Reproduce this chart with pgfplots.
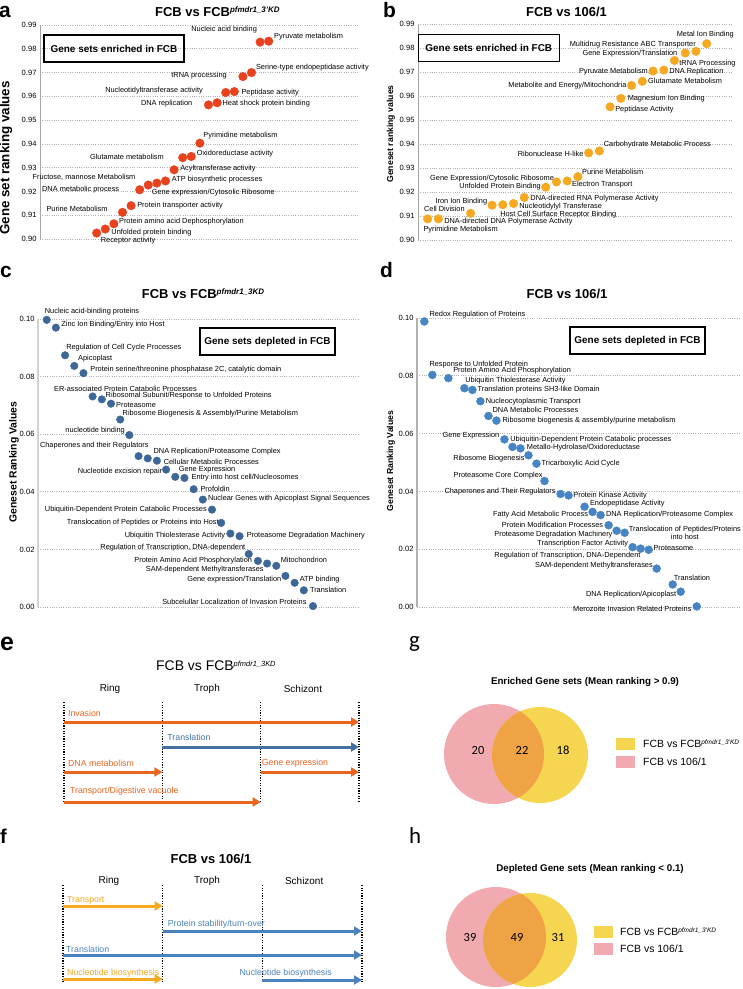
\documentclass[border=0pt]{standalone}
\usepackage{fontspec}
\setmainfont{Liberation Sans}
\newfontfamily\calfont{Carlito}
\usepackage{pgfplots}
\pgfplotsset{compat=1.18}
\usetikzlibrary{arrows.meta}

\definecolor{redA}{RGB}{232,65,30}
\definecolor{orgB}{RGB}{246,168,33}
\definecolor{bluC}{RGB}{60,103,150}
\definecolor{bluD}{RGB}{70,132,196}
\definecolor{orE}{RGB}{234,100,30}
\definecolor{bluE}{RGB}{68,114,160}
\definecolor{orF}{RGB}{246,168,30}
\definecolor{bluF}{RGB}{75,130,190}
\definecolor{pinkV}{RGB}{240,170,176}
\definecolor{yelV}{RGB}{246,213,80}
\definecolor{ovV}{RGB}{240,163,68}

\pgfplotsset{
  scat/.style={
    scale only axis, anchor=north west, clip=false,
    axis x line=none, axis y line*=left,
    ymajorgrids,
    grid style={gray!60, dash pattern=on 0.7bp off 1.6bp, line width=0.7bp},
    major tick length=0pt,
    /pgf/number format/assume math mode=true,
    yticklabel style={font=\fontsize{7.6}{8.5}\selectfont,
      /pgf/number format/.cd, fixed, fixed zerofill, precision=2, /tikz/.cd},
  },
  stage/.style={scale only axis, anchor=north west, clip=false, hide axis, xmin=0, xmax=3},
  venn/.style={scale only axis, anchor=north west, clip=false, hide axis, xmin=430, xmax=743},
}
\tikzset{
  lbl/.style={inner sep=0pt, font=\fontsize{7.4}{8.5}\selectfont},
  box/.style={draw, line width=1.4bp, inner sep=0pt, minimum height=27bp,
    font=\bfseries\fontsize{10}{12}\selectfont},
  ttl/.style={inner sep=0pt, anchor=base west, font=\bfseries\fontsize{13}{15}\selectfont},
  ylab/.style={rotate=90, inner sep=0pt, font=\bfseries},
  let/.style={inner sep=0pt, anchor=base west, font=\bfseries\fontsize{21}{24}\selectfont},
  stg/.style={inner sep=0pt, anchor=west, font=\fontsize{8.8}{10}\selectfont},
  hdr/.style={inner sep=0pt, font=\fontsize{10}{12}\selectfont},
  vline/.style={black, line width=1.3bp, dash pattern=on 1.2bp off 1.4bp},
  arr/.style={line width=3bp, -{Triangle[length=8bp,width=9bp]}},
}
% label next to a point: x, y, anchor, xshift, yshift, text
\newcommand{\lab}[6]{\node[lbl,anchor=#3] at ([xshift=#4bp,yshift=#5bp]axis cs:#1,#2) {#6};}

\begin{document}
\begin{tikzpicture}
\useasboundingbox (0,0) rectangle (743bp,-989bp);

% ---------- a ----------
\begin{axis}[scat, at={(40bp,-25bp)}, width=318bp, height=214bp,
  xmin=-5.59, xmax=31.38, ymin=0.90, ymax=0.99,
  ytick={0.90,0.91,0.92,0.93,0.94,0.95,0.96,0.97,0.98,0.99},
  y axis line style={gray!70, line width=0.8bp}]
\addplot[only marks, mark=*, mark size=4.3pt, mark options={fill=redA, draw=redA}] coordinates {
 (1,0.9025) (2,0.9042) (3,0.9064) (4,0.9112) (5,0.9140) (6,0.9207) (7,0.9227)
 (8,0.9235) (9,0.9244) (10,0.9291) (11,0.9342) (12,0.9347) (13,0.9403) (14,0.9564)
 (15,0.9573) (16,0.9616) (17,0.9620) (18,0.9683) (19,0.9700) (20,0.9828) (21,0.9832)};
\lab{1}{0.9025}{west}{4}{-7.3}{Receptor activity}
\lab{2}{0.9042}{west}{6}{-3.3}{Unfolded protein binding}
\lab{3}{0.9064}{west}{5}{1.7}{Protein amino acid Dephosphorylation}
\lab{4}{0.9112}{east}{-14.7}{3.3}{Purine Metabolism}
\lab{5}{0.9140}{west}{6}{0.3}{Protein transporter activity}
\lab{6}{0.9207}{east}{-20.3}{0}{DNA metabolic process}
\lab{7}{0.9227}{east}{-12.7}{7.7}{Fructose, mannose Metabolism}
\lab{8}{0.9235}{west}{-5.3}{-9}{Gene expression/Cytosolic Ribosome}
\lab{9}{0.9244}{west}{6.3}{1.3}{ATP biosynthetic processes}
\lab{10}{0.9291}{west}{6}{1}{Acyltransferase activity}
\lab{11}{0.9342}{east}{-18.7}{1.3}{Glutamate metabolism}
\lab{12}{0.9347}{west}{5.3}{2.7}{Oxidoreductase activity}
\lab{13}{0.9403}{west}{3.3}{7.3}{Pyrimidine metabolism}
\lab{14}{0.9564}{east}{-16}{1}{DNA replication}
\lab{15}{0.9573}{west}{5.3}{-1}{Heat shock protein binding}
\lab{16}{0.9616}{east}{-22.7}{2}{Nucleotidyltransferase activity}
\lab{17}{0.9620}{west}{7}{-0.7}{Peptidase activity}
\lab{18}{0.9683}{east}{-16}{0.7}{tRNA processing}
\lab{19}{0.9700}{west}{4.3}{5.3}{Serine-type endopeptidase activity}
\lab{20}{0.9828}{east}{-3}{13}{Nucleic acid binding}
\lab{21}{0.9832}{west}{5.3}{4.7}{Pyruvate metabolism}
\end{axis}

% ---------- b ----------
\begin{axis}[scat, at={(418bp,-24bp)}, width=315bp, height=216bp,
  xmin=0.1, xmax=29.45, ymin=0.90, ymax=0.99,
  ytick={0.90,0.91,0.92,0.93,0.94,0.95,0.96,0.97,0.98,0.99},
  y axis line style={gray!70, line width=1bp}]
\addplot[only marks, mark=*, mark size=4.3pt, mark options={fill=orgB, draw=orgB}] coordinates {
 (1,0.9088) (2,0.9088) (5,0.9111) (7,0.9145) (8,0.9147) (9,0.9152) (10,0.9177)
 (12,0.9220) (13,0.9242) (14,0.9246) (15,0.9264) (16,0.9363) (17,0.9371) (18,0.9555)
 (19,0.9590) (20,0.9644) (21,0.9661) (22,0.9704) (23,0.9708) (24,0.9748) (25,0.9779)
 (26,0.9786) (27,0.9818)};
\lab{1}{0.9088}{west}{-4.3}{-10.3}{Pyrimidine Metabolism}
\lab{2}{0.9088}{west}{5.7}{-2.3}{DNA-directed DNA Polymerase Activity}
\lab{5}{0.9111}{east}{-5.7}{4.3}{Cell Division}
\lab{7}{0.9145}{east}{-4.7}{3.7}{Iron Ion Binding}
\lab{8}{0.9147}{west}{-2.7}{-10.3}{Host Cell Surface Receptor Binding}
\lab{9}{0.9152}{west}{5.7}{-3}{Nucleotidylyl Transferase}
\lab{10}{0.9177}{west}{6}{-0.7}{DNA-directed RNA Polymerase Activity}
\lab{12}{0.9220}{east}{-4.7}{0.7}{Unfolded Protein Binding}
\lab{13}{0.9242}{east}{-2.3}{3.7}{Gene Expression/Cytosolic Ribosome}
\lab{14}{0.9246}{west}{4.7}{-4}{Electron Transport}
\lab{15}{0.9264}{west}{4}{4.3}{Purine Metabolism}
\lab{16}{0.9363}{east}{-5}{-0.7}{Ribonuclease H-like}
\lab{17}{0.9371}{west}{4.3}{6}{Carbohydrate Metabolic Process}
\lab{18}{0.9555}{west}{5}{-3}{Peptidase Activity}
\lab{19}{0.9590}{west}{6.7}{-0.3}{Magnesium Ion Binding}
\lab{20}{0.9644}{east}{-5}{0}{Metabolite and Energy/Mitochondria}
\lab{21}{0.9661}{west}{5.7}{0.3}{Glutamate Metabolism}
\lab{22}{0.9704}{east}{-5}{-0.3}{Pyruvate Metabolism}
\lab{23}{0.9708}{west}{5.3}{-1.7}{DNA Replication}
\lab{24}{0.9748}{west}{4.7}{-2.7}{tRNA Processing}
\lab{25}{0.9779}{east}{-7.7}{-0.7}{Gene Expression/Translation}
\lab{26}{0.9786}{east}{0}{6.7}{Multidrug Resistance ABC Transporter}
\lab{27}{0.9818}{east}{27.3}{8.7}{Metal Ion Binding}
\end{axis}

% ---------- c ----------
\begin{axis}[scat, at={(38bp,-319bp)}, width=320bp, height=288bp,
  xmin=0.05, xmax=34.9, ymin=0, ymax=0.1,
  ytick={0,0.02,0.04,0.06,0.08,0.1},
  y axis line style={gray!35, line width=2.2bp}]
\addplot[only marks, mark=*, mark size=3.8pt, mark options={fill=bluC, draw=bluC}] coordinates {
 (1,0.0997) (2,0.0970) (3,0.0874) (4,0.0837) (5,0.0812) (6,0.0731) (7,0.0721)
 (8,0.0706) (9,0.0651) (10,0.0597) (11,0.0524) (12,0.0516) (13,0.0508) (14,0.0477)
 (15,0.0452) (16,0.0448) (17,0.0409) (18,0.0373) (19,0.0338) (20,0.0292) (21,0.0255)
 (22,0.0246) (23,0.0184) (24,0.0160) (25,0.0151) (26,0.0143) (27,0.0108) (28,0.0084)
 (29,0.0058) (30,0.0003)};
\lab{1}{0.0997}{west}{-2}{8.3}{Nucleic acid-binding proteins}
\lab{2}{0.0970}{west}{5.3}{3.3}{Zinc Ion Binding/Entry into Host}
\lab{3}{0.0874}{west}{1}{7.7}{Regulation of Cell Cycle Processes}
\lab{4}{0.0837}{west}{3.7}{7.3}{Apicoplast}
\lab{5}{0.0812}{west}{6.7}{3.3}{Protein serine/threonine phosphatase 2C, catalytic domain}
\lab{6}{0.0731}{west}{-38.7}{7.7}{ER-associated Protein Catabolic Processes}
\lab{7}{0.0721}{west}{3.7}{3.7}{Ribosomal Subunit/Response to Unfolded Proteins}
\lab{8}{0.0706}{west}{5}{-1.7}{Proteasome}
\lab{9}{0.0651}{west}{2.3}{6.3}{Ribosome Biogenesis \& Assembly/Purine Metabolism}
\lab{10}{0.0597}{east}{-4.3}{4.7}{nucleotide binding}
\lab{11}{0.0524}{east}{10.3}{10.3}{Chaperones and their Regulators}
\lab{12}{0.0516}{west}{5.7}{7}{DNA Replication/Proteasome Complex}
\lab{13}{0.0508}{west}{6.7}{-0.7}{Cellular Metabolic Processes}
\lab{14}{0.0477}{east}{-3.7}{-2.3}{Nucleotide excision repair}
\lab{15}{0.0452}{west}{3.3}{7}{Gene Expression}
\lab{16}{0.0448}{west}{7}{0.3}{Entry into host cell/Nucleosomes}
\lab{17}{0.0409}{west}{6.7}{0.3}{Profoldin}
\lab{18}{0.0373}{west}{5}{1.3}{Nuclear Genes with Apicoplast Signal Sequences}
\lab{19}{0.0338}{east}{-5}{0}{Ubiquitin-Dependent Protein Catabolic Processes}
\lab{20}{0.0292}{east}{-2.3}{0.3}{Translocation of Peptides or Proteins into Host}
\lab{21}{0.0255}{east}{-5}{-1.7}{Ubiquitin Thiolesterase Activity}
\lab{22}{0.0246}{west}{7}{0.7}{Proteasome Degradation Machinery}
\lab{23}{0.0184}{east}{-3.3}{6.7}{Regulation of Transcription, DNA-dependent}
\lab{24}{0.0160}{east}{-5.7}{0}{Protein Amino Acid Phosphorylation}
\lab{25}{0.0151}{east}{-3.3}{-5.7}{SAM-dependent Methyltransferases}
\lab{26}{0.0143}{west}{4.3}{5.7}{Mitochondrion}
\lab{27}{0.0108}{east}{-4}{-4}{Gene expression/Translation}
\lab{28}{0.0084}{west}{5}{3.3}{ATP binding}
\lab{29}{0.0058}{west}{6}{0.7}{Translation}
\lab{30}{0.0003}{east}{-6.3}{4.3}{Subcelullar Localization of Invasion Proteins}
\end{axis}

% ---------- d ----------
\begin{axis}[scat, at={(417bp,-318bp)}, width=323bp, height=289bp,
  xmin=0.086, xmax=40.4, ymin=0, ymax=0.1,
  ytick={0,0.02,0.04,0.06,0.08,0.1},
  y axis line style={gray!60, line width=1.6bp}]
\addplot[only marks, mark=*, mark size=4pt, mark options={fill=bluD, draw=bluD}] coordinates {
 (1,0.0988) (2,0.0803) (4,0.0792) (6,0.0757) (7,0.0751) (8,0.0712) (9,0.0661)
 (10,0.0645) (11,0.0580) (12,0.0554) (13,0.0549) (14,0.0525) (15,0.0496) (16,0.0436)
 (18,0.0391) (19,0.0386) (21,0.0347) (22,0.0329) (23,0.0318) (24,0.0283) (25,0.0264)
 (26,0.0257) (27,0.0207) (28,0.0202) (29,0.0198) (30,0.0133) (32,0.0078) (33,0.0053)
 (35,0.0002)};
\lab{1}{0.0988}{west}{5}{7.3}{Redox Regulation of Proteins}
\lab{2}{0.0803}{west}{-3}{10.7}{Response to Unfolded Protein}
\lab{4}{0.0792}{west}{4.7}{7.3}{Protein Amino Acid Phosphorylation}
\lab{6}{0.0757}{west}{0.7}{8}{Ubiquitin Thiolesterase Activity}
\lab{7}{0.0751}{west}{5}{0}{Translation proteins SH3-like Domain}
\lab{8}{0.0712}{west}{5.3}{0}{Nucleocytoplasmic Transport}
\lab{9}{0.0661}{west}{4}{6}{DNA Metabolic Processes}
\lab{10}{0.0645}{west}{6}{0}{Ribosome biogenesis \& assembly/purine metabolism}
\lab{11}{0.0580}{east}{-5}{3.3}{Gene Expression}
\lab{12}{0.0554}{west}{-2.3}{7}{Ubiquitin-Dependent Protein Catabolic processes}
\lab{13}{0.0549}{west}{6.3}{1}{Metallo-Hydrolase/Oxidoreductase}
\lab{14}{0.0525}{east}{-3.7}{-3.7}{Ribosome Biogenesis}
\lab{15}{0.0496}{west}{5}{-0.3}{Tricarboxylic Acid Cycle}
\lab{16}{0.0436}{east}{-1.7}{5.3}{Proteasome Core Complex}
\lab{18}{0.0391}{east}{-4.7}{2.3}{Chaperones and Their Regulators}
\lab{19}{0.0386}{west}{4.7}{-0.3}{Protein Kinase Activity}
\lab{21}{0.0347}{west}{5.3}{3.3}{Endopeptidase Activity}
\lab{22}{0.0329}{east}{-4.3}{-2.7}{Fatty Acid Metabolic Process}
\lab{23}{0.0318}{west}{5.3}{0.7}{DNA Replication/Proteasome Complex}
\lab{24}{0.0283}{east}{-5.3}{0.3}{Protein Modification Processes}
\lab{25}{0.0264}{east}{-4}{-4.3}{Proteasome Degradation Machinery}
\node[lbl, anchor=west, align=center] at ([xshift=4bp,yshift=-0.3bp]axis cs:26,0.0257)
  {Translocation of Peptides/Proteins\\into host};
\lab{27}{0.0207}{east}{-4.3}{3.3}{Transcription Factor Activity}
\lab{28}{0.0202}{east}{0}{-6.7}{Regulation of Transcription, DNA-Dependent}
\lab{29}{0.0198}{west}{4.7}{1.3}{Proteasome}
\lab{30}{0.0133}{east}{-3.7}{2.7}{SAM-dependent Methyltransferases}
\lab{32}{0.0078}{west}{1}{6.3}{Translation}
\lab{33}{0.0053}{east}{-4.3}{-3}{DNA Replication/Apicoplast}
\lab{35}{0.0002}{east}{-5}{-2.7}{Merozoite Invasion Related Proteins}
\end{axis}

% ---------- e ----------
\begin{axis}[stage, at={(64bp,-702bp)}, width=295bp, height=101bp, ymin=-101, ymax=0]
\addplot[vline] coordinates {(0,0) (0,-101)};
\addplot[vline] coordinates {(1,0) (1,-101)};
\addplot[vline] coordinates {(2,0) (2,-101)};
\addplot[vline] coordinates {(3,0) (3,-101)};
\addplot[arr, orE] coordinates {(0,-20) (3,-20)};
\addplot[arr, bluE] coordinates {(1,-45) (3,-45)};
\addplot[arr, orE] coordinates {(0,-70) (1,-70)};
\addplot[arr, orE] coordinates {(2,-70) (3,-70)};
\addplot[arr, orE] coordinates {(0,-100) (2,-100)};
\node[stg, text=orE] at (axis cs:0.04,-11) {Invasion};
\node[stg, text=bluE] at (axis cs:1.05,-35) {Translation};
\node[stg, text=orE] at (axis cs:0.04,-61) {DNA metabolism};
\node[stg, text=orE] at (axis cs:2.01,-61) {Gene expression};
\node[stg, text=orE] at (axis cs:0.06,-89) {Transport/Digestive vacuole};
\node[hdr] at (axis cs:0.468,13) {Ring};
\node[hdr] at (axis cs:1.454,13) {Troph};
\node[hdr] at (axis cs:2.43,13) {Schizont};
\end{axis}

% ---------- f ----------
\begin{axis}[stage, at={(63bp,-885bp)}, width=299bp, height=97bp, ymin=-97, ymax=0]
\addplot[vline] coordinates {(0,0) (0,-97)};
\addplot[vline] coordinates {(1,0) (1,-97)};
\addplot[vline] coordinates {(2,0) (2,-97)};
\addplot[vline] coordinates {(3,0) (3,-97)};
\addplot[arr, orF] coordinates {(0,-21) (1,-21)};
\addplot[arr, bluF] coordinates {(1,-46) (3,-46)};
\addplot[arr, bluF] coordinates {(0,-70) (3,-70)};
\addplot[arr, orF] coordinates {(0,-94) (1,-94)};
\addplot[arr, bluF] coordinates {(2,-95) (3,-95)};
\node[stg, text=orF] at (axis cs:0.04,-15) {Transport};
\node[stg, text=bluF] at (axis cs:1.05,-39) {Protein stability/turn-over};
\node[stg, text=bluF] at (axis cs:0.03,-64) {Translation};
\node[stg, text=orF] at (axis cs:0.04,-88) {Nucleotide biosynthesis};
\node[stg, text=bluF] at (axis cs:1.77,-88) {Nucleotide biosynthesis};
\node[hdr] at (axis cs:0.46,4) {Ring};
\node[hdr] at (axis cs:1.445,4) {Troph};
\node[hdr] at (axis cs:2.42,4) {Schizont};
\end{axis}

% ---------- g ----------
\begin{axis}[venn, at={(430bp,-670bp)}, width=313bp, height=142bp, ymin=-812, ymax=-670]
\fill[pinkV] (axis cs:494,-754) circle[radius=50bp];
\fill[yelV] (axis cs:540,-755) circle[radius=48bp];
\begin{scope}
\clip (axis cs:494,-754) circle[radius=50bp];
\fill[ovV] (axis cs:540,-755) circle[radius=48bp];
\end{scope}
\node[font=\calfont\fontsize{12.5}{14}\selectfont] at (axis cs:478,-750) {20};
\node[font=\calfont\fontsize{12.5}{14}\selectfont] at (axis cs:522,-750) {22};
\node[font=\calfont\fontsize{12.5}{14}\selectfont] at (axis cs:563,-750) {18};
\fill[yelV] (axis cs:616,-738) rectangle (axis cs:635,-750);
\fill[pinkV] (axis cs:616,-756) rectangle (axis cs:635,-768);
\node[inner sep=0pt, anchor=west, font=\fontsize{10.5}{12}\selectfont] at (axis cs:643,-744)
  {FCB vs FCB\raisebox{2.9bp}{\fontsize{6.5}{7}\selectfont\itshape pfmdr1\_3'KD}};
\node[inner sep=0pt, anchor=west, font=\fontsize{10.5}{12}\selectfont] at (axis cs:643,-762) {FCB vs 106/1};
\node[font=\bfseries\fontsize{9.8}{12}\selectfont] at (axis cs:585,-682) {Enriched Gene sets (Mean ranking > 0.9)};
\end{axis}

% ---------- h ----------
\begin{axis}[venn, at={(430bp,-850bp)}, width=313bp, height=139bp, ymin=-989, ymax=-850]
\fill[pinkV] (axis cs:496,-937) circle[radius=50bp];
\fill[yelV] (axis cs:530,-940) circle[radius=47bp];
\begin{scope}
\clip (axis cs:496,-937) circle[radius=50bp];
\fill[ovV] (axis cs:530,-940) circle[radius=47bp];
\end{scope}
\node[font=\calfont\fontsize{12.5}{14}\selectfont] at (axis cs:470,-937) {39};
\node[font=\calfont\fontsize{12.5}{14}\selectfont] at (axis cs:517,-937) {49};
\node[font=\calfont\fontsize{12.5}{14}\selectfont] at (axis cs:558,-937) {31};
\fill[yelV] (axis cs:594,-926) rectangle (axis cs:613,-938);
\fill[pinkV] (axis cs:594,-943) rectangle (axis cs:613,-955);
\node[inner sep=0pt, anchor=west, font=\fontsize{10.5}{12}\selectfont] at (axis cs:620,-932)
  {FCB vs FCB\raisebox{2.9bp}{\fontsize{6.5}{7}\selectfont\itshape pfmdr1\_3'KD}};
\node[inner sep=0pt, anchor=west, font=\fontsize{10.5}{12}\selectfont] at (axis cs:620,-949) {FCB vs 106/1};
\node[font=\bfseries\fontsize{9.8}{12}\selectfont] at (axis cs:590,-869) {Depleted Gene sets (Mean ranking < 0.1)};
\end{axis}

% titles, y labels, boxes, panel letters
\node[ttl] at (155bp,-16.5bp) {FCB vs FCB\raisebox{4bp}{\fontsize{8}{9}\selectfont\itshape pfmdr1\_3'KD}};
\node[ttl, anchor=base] at (566.5bp,-16.5bp) {FCB vs 106/1};
\node[ttl] at (141.7bp,-298.3bp) {FCB vs FCB\raisebox{4bp}{\fontsize{8}{9}\selectfont\itshape pfmdr1\_3KD}};
\node[ttl, anchor=base] at (567bp,-298.3bp) {FCB vs 106/1};
\node[inner sep=0pt, anchor=base west, font=\fontsize{14}{16}\selectfont] at (156bp,-670.7bp)
  {FCB vs FCB\raisebox{4.6bp}{\fontsize{7.5}{8}\selectfont\itshape pfmdr1\_3KD}};
\node[ttl, anchor=base] at (211bp,-863.3bp) {FCB vs 106/1};

\node[ylab, font=\bfseries\fontsize{13.4}{16}\selectfont] at (6bp,-158bp) {Gene set ranking values};
\node[ylab, font=\bfseries\fontsize{8.7}{10}\selectfont] at (391bp,-134bp) {Geneset ranking values};
\node[ylab, font=\bfseries\fontsize{10.4}{12}\selectfont] at (14bp,-462bp) {Geneset Ranking Values};
\node[ylab, font=\bfseries\fontsize{8.7}{10}\selectfont] at (391bp,-461bp) {Geneset Ranking Values};

\node[box, minimum width=140bp] at (114bp,-48.5bp) {Gene sets enriched in FCB};
\node[box, minimum width=141bp] at (488.8bp,-48bp) {Gene sets enriched in FCB};
\node[box, minimum width=135bp] at (267.5bp,-341.5bp) {Gene sets depleted in FCB};
\node[box, minimum width=135bp] at (637.5bp,-340.5bp) {Gene sets depleted in FCB};

\node[let] at (-1bp,-17bp) {a};
\node[let] at (383bp,-17bp) {b};
\node[let] at (0bp,-277bp) {c};
\node[let] at (380bp,-277bp) {d};
\node[let, font=\bfseries\fontsize{25}{28}\selectfont] at (0bp,-650bp) {e};
\node[let, font=\bfseries\fontsize{20}{24}\selectfont] at (0bp,-843bp) {f};
\node[let, font=\calfont\fontsize{23}{26}\selectfont] at (409bp,-647bp) {g};
\node[let, font=\calfont\fontsize{23}{26}\selectfont] at (409bp,-843bp) {h};
\end{tikzpicture}
\end{document}
